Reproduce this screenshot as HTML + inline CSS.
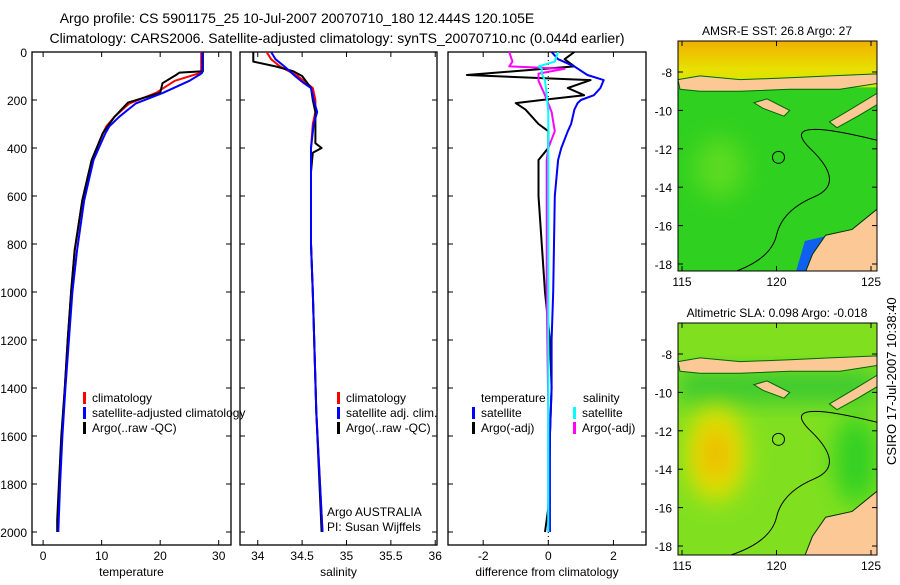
<!DOCTYPE html>
<html><head><meta charset="utf-8"><style>
body{margin:0;background:#fff;width:900px;height:580px;overflow:hidden}
svg{font-family:"Liberation Sans",sans-serif}
</style></head><body>
<svg id="c" width="900" height="580" xmlns="http://www.w3.org/2000/svg">
<defs>
<linearGradient id="sstTop" x1="0" y1="0" x2="0" y2="1"><stop offset="0" stop-color="#f0b000"/><stop offset="0.6" stop-color="#e8e000"/><stop offset="1" stop-color="#d0e800"/></linearGradient>
<filter id="blur" x="-50%" y="-50%" width="200%" height="200%"><feGaussianBlur stdDeviation="12"/></filter>
<clipPath id="m1"><rect x="678" y="41" width="199" height="230"/></clipPath>
<clipPath id="m2"><rect x="678" y="323" width="199" height="232"/></clipPath>
<clipPath id="p1"><rect x="32" y="52" width="199" height="493"/></clipPath>
<clipPath id="p2"><rect x="240" y="52" width="197" height="493"/></clipPath>
<clipPath id="p3"><rect x="448" y="52" width="198" height="493"/></clipPath>
</defs>
<text x="297" y="23" font-size="14" text-anchor="middle">Argo profile: CS 5901175_25 10-Jul-2007 20070710_180 12.444S 120.105E</text>
<text x="337" y="43" font-size="14" text-anchor="middle">Climatology: CARS2006. Satellite-adjusted climatology: synTS_20070710.nc (0.044d earlier)</text>
<g id="plots"></g>
<g id="maps"></g>
<text transform="translate(896,465) rotate(-90)" font-size="13">CSIRO 17-Jul-2007 10:38:40</text>
</svg>
<script>
// ---- data ----
const depthTicks=[0,200,400,600,800,1000,1200,1400,1600,1800,2000];
const tDepth=[0,85,90,120,170,215,270,310,340,450,620,825,1000,1200,1400,1600,1800,2000];
const tClim=[27,27,26.5,22.5,19.3,14.7,12.2,10.8,10.2,8.3,6.7,5.4,4.8,4.2,3.7,3.2,2.8,2.5];
const tSat=[27.2,27.2,27,25,20.5,15.8,13,11.3,10.6,8.6,7.0,5.8,5.0,4.4,3.8,3.3,2.9,2.6];
const tArgoDepth=[0,80,86,96,130,170,211,270,338,450,617,825,992,1200,1400,1600,1800,1950,2000];
const tArgo=[27.3,27.3,23.3,22.7,20.4,20,14.5,12.2,10.2,8.3,6.7,5.4,4.8,4.2,3.7,3.1,2.7,2.4,2.4];
const sDepth=[0,30,60,100,130,150,200,250,300,400,500,800,1000,1500,2000];
const sClim=[34.1,34.15,34.25,34.45,34.55,34.62,34.65,34.65,34.62,34.6,34.6,34.6,34.62,34.66,34.73];
const sSat=[34.15,34.2,34.3,34.42,34.52,34.6,34.63,34.67,34.63,34.6,34.6,34.6,34.62,34.66,34.73];
const sArgoDepth=[0,40,60,80,100,150,200,250,300,380,400,420,500,800,1000,1500,2000];
const sArgo=[33.95,33.95,34.2,34.4,34.5,34.6,34.62,34.65,34.65,34.65,34.72,34.62,34.6,34.6,34.62,34.66,34.72];
const dDepth=[0,30,60,96,117,150,180,200,213,240,300,330,400,450,600,1000,1200,1400,1600,1900,2000];
const dTempArgo=[0.8,0.5,0.8,-2.5,1.3,0.6,1.1,-0.2,-1.0,-0.7,-0.3,0,0,-0.3,-0.3,-0.1,0.05,0.1,0.05,0,-0.1];
const dTempSat=[0.1,0.3,0.8,1.2,1.7,1.6,1.4,1.0,0.9,0.8,0.7,0.6,0.4,0.3,0.2,0.15,0.1,0.1,0.05,0.05,0.05];
const dSalArgoDepth=[0,40,60,70,90,120,180,250,330,400,450,1000,1500,2000];
const dSalArgo=[-1.2,-1.1,-1.2,0.5,-0.3,-0.3,-0.1,0.1,0.2,0,-0.05,-0.05,0,0];
const dSalSat=[0.3,0.2,-0.3,-0.2,-0.2,-0.1,-0.05,0,0,0,0,0,0,0];
// ---- helpers ----
const NS='http://www.w3.org/2000/svg';
const plots=document.getElementById('plots');
function mk(tag,at,parent){const e=document.createElementNS(NS,tag);for(const k in at)e.setAttribute(k,at[k]);(parent||plots).appendChild(e);return e;}
const Y=d=>52+d*0.24;
function panel(x0,x1,xmin,xmax,ticks,name,label,clip,yLabels){
  const X=v=>x0+(v-xmin)/(xmax-xmin)*(x1-x0);
  const g=mk('g',{});
  
  
  const r=mk('rect',{x:x0,y:52,width:x1-x0,height:493,fill:'none',stroke:'#000','stroke-width':1.3},g);
  
  
  depthTicks.forEach(d=>{
    mk('line',{x1:x0,x2:x0+5,y1:Y(d),y2:Y(d),stroke:'#000'},g);
    mk('line',{x1:x1-5,x2:x1,y1:Y(d),y2:Y(d),stroke:'#000'},g);
    if(yLabels){const t=mk('text',{x:x0-5,y:Y(d)+5,'font-size':12,'text-anchor':'end'},g);t.textContent=d;
      
      }
  });
  ticks.forEach(v=>{
    mk('line',{x1:X(v),x2:X(v),y1:52,y2:57,stroke:'#000'},g);
    mk('line',{x1:X(v),x2:X(v),y1:540,y2:545,stroke:'#000'},g);
    const t=mk('text',{x:X(v),y:560,'font-size':12,'text-anchor':'middle'},g);t.textContent=v;
    
    
  });
  const l=mk('text',{x:(x0+x1)/2,y:576,'font-size':12,'text-anchor':'middle'},g);l.textContent=label;
  
  
  const lines=mk('g',{'clip-path':'url(#'+clip+')'},g);
  return {X,g,lines};
}
function series(p,ds,vs,color,w,name){
  const pts=ds.map((d,i)=>p.X(vs[i]).toFixed(1)+','+Y(d).toFixed(1)).join(' ');
  const e=mk('polyline',{points:pts,fill:'none',stroke:color,'stroke-width':w,'stroke-linejoin':'round'},p.lines);
  
  
}
function legend(p,x,y,items){
  items.forEach((it,i)=>{
    mk('rect',{x:x,y:y+i*15-10,width:3,height:12,fill:it[1]},p.g);
    const t=mk('text',{x:x+9,y:y+i*15,'font-size':12},p.g);t.textContent=it[0];
    
    
  });
}
// Temperature
const p1=panel(32,231,-1.9,32.1,[0,10,20,30],'temperature','temperature','p1',true);
series(p1,tDepth,tClim,'#f00',2,'temp-climatology-line');
series(p1,tArgoDepth,tArgo,'#000',2,'temp-argo-line');
series(p1,tDepth,tSat,'#00f',2,'temp-satellite-line');
legend(p1,83,402,[['climatology','#f00'],['satellite-adjusted climatology','#00f'],['Argo(..raw -QC)','#000']]);
// Salinity
const p2=panel(240,437,33.8,36.02,[34,34.5,35,35.5,36],'salinity','salinity','p2',false);
series(p2,sDepth,sClim,'#f00',2,'sal-climatology-line');
series(p2,sArgoDepth,sArgo,'#000',2,'sal-argo-line');
series(p2,sDepth,sSat,'#00f',2,'sal-satellite-line');
legend(p2,337,402,[['climatology','#f00'],['satellite adj. clim.','#00f'],['Argo(..raw -QC)','#000']]);
[['Argo AUSTRALIA',516],['PI: Susan Wijffels',531]].forEach(a=>{const t=mk('text',{x:327,y:a[1],'font-size':12},p2.g);t.textContent=a[0];
  
  });
// Difference
const p3=panel(448,646,-3.08,3.0,[-2,0,2],'difference','difference from climatology','p3',false);
mk('line',{x1:p3.X(0),x2:p3.X(0),y1:52,y2:545,stroke:'#000','stroke-dasharray':'1,3'},p3.lines);
series(p3,dDepth,dTempArgo,'#000',2,'diff-temp-argo-line');
series(p3,dDepth,dTempSat,'#00f',2,'diff-temp-satellite-line');
series(p3,dSalArgoDepth,dSalArgo,'#f0f',2,'diff-sal-argo-line');
series(p3,dSalArgoDepth,dSalSat,'#0ff',2,'diff-sal-satellite-line');
const th=mk('text',{x:481,y:402,'font-size':12},p3.g);th.textContent='temperature';


const sh=mk('text',{x:583,y:402,'font-size':12},p3.g);sh.textContent='salinity';


legend(p3,472,417,[['satellite','#00f'],['Argo(-adj)','#000']]);
legend(p3,573,417,[['satellite','#0ff'],['Argo(-adj)','#f0f']]);
// ---- maps ----
const maps=document.getElementById('maps');
const latTicks=[-8,-10,-12,-14,-16,-18];
const lonTicks=[115,120,125];
function map(y0,h,title,clip,overlay,name){
  const g=mk('g',{},maps);
  
  
  const LX=lon=>682+(lon-115)*18.9, LY=lat=>y0+31+(-8-lat)*19.2;
  const t=mk('text',{x:777,y:y0-6,'font-size':12,'text-anchor':'middle'},g);t.textContent=title;
  
  
  const c=mk('g',{'clip-path':'url(#'+clip+')'},g);
  mk('rect',{x:678,y:y0,width:199,height:h,fill:'#30d020'},c);
  overlay(c,LX,LY);
  const land='#fcc896';
  mk('path',{d:`M678 ${LY(-8.4)} L700 ${LY(-8.2)} L740 ${LY(-8.4)} L790 ${LY(-8.3)} L830 ${LY(-8.2)} L877 ${LY(-8.1)} L877 ${LY(-8.6)} L840 ${LY(-8.9)} L790 ${LY(-8.9)} L740 ${LY(-9.0)} L700 ${LY(-9.0)} L680 ${LY(-8.9)}Z`,fill:land,stroke:'#060','stroke-width':1},c);
  mk('path',{d:`M${LX(118.8)} ${LY(-9.6)} L${LX(119.5)} ${LY(-9.4)} L${LX(120.7)} ${LY(-10)} L${LX(120.4)} ${LY(-10.3)} L${LX(119.3)} ${LY(-9.9)}Z`,fill:land,stroke:'#060'},c);
  mk('path',{d:`M${LX(122.8)} ${LY(-10.6)} L${LX(124)} ${LY(-9.9)} L${LX(125.5)} ${LY(-9)} L${LX(125.5)} ${LY(-9.6)} L${LX(124.3)} ${LY(-10.3)} L${LX(123.2)} ${LY(-10.9)}Z`,fill:land,stroke:'#060'},c);
  mk('path',{d:`M${LX(121.5)} ${LY(-18.5)} L${LX(121.9)} ${LY(-17.5)} L${LX(122.6)} ${LY(-16.5)} L${LX(124)} ${LY(-16.2)} L${LX(125.5)} ${LY(-15)} L${LX(125.5)} ${LY(-18.5)}Z`,fill:land,stroke:'#030'},c);
  mk('path',{d:`M${LX(117.5)} ${LY(-18.5)} Q${LX(119.7)} ${LY(-17.8)} ${LX(120)} ${LY(-16.5)} T${LX(122)} ${LY(-14.5)} T${LX(121.8)} ${LY(-12)} T${LX(125.5)} ${LY(-11.6)}`,fill:'none',stroke:'#000','stroke-width':1},c);
  mk('circle',{cx:LX(120.105),cy:LY(-12.444),r:6,fill:'none',stroke:'#000'},c);
  const fr=mk('rect',{x:678,y:y0,width:199,height:h,fill:'none',stroke:'#000'},g);
  
  
  latTicks.forEach(l=>{mk('line',{x1:877,x2:872,y1:LY(l),y2:LY(l),stroke:'#000'},g);
    mk('line',{x1:678,x2:683,y1:LY(l),y2:LY(l),stroke:'#000'},g);
    const tt=mk('text',{x:672,y:LY(l)+5,'font-size':12,'text-anchor':'end'},g);tt.textContent=l;
    
    });
  lonTicks.forEach(l=>{mk('line',{x1:LX(l),x2:LX(l),y1:y0,y2:y0+5,stroke:'#000'},g);
    mk('line',{x1:LX(l),x2:LX(l),y1:y0+h,y2:y0+h-5,stroke:'#000'},g);
    const tt=mk('text',{x:LX(l),y:y0+h+15,'font-size':12,'text-anchor':'middle'},g);tt.textContent=l;
    
    });
}
map(41,230,'AMSR-E SST: 26.8 Argo: 27','m1',(c,LX,LY)=>{
  mk('rect',{x:678,y:41,width:199,height:LY(-8.8)-41,fill:'url(#sstTop)'},c);
  mk('ellipse',{cx:LX(117),cy:LY(-13),rx:25,ry:30,fill:'#70e020',opacity:0.7,filter:'url(#blur)'},c);
  mk('path',{d:`M${LX(121)} ${LY(-18.5)} L${LX(121.5)} ${LY(-16.8)} L${LX(122.8)} ${LY(-16.5)} L${LX(122.5)} ${LY(-18.5)}Z`,fill:'#1060f0'},c);
},'sst-map');
map(323,232,'Altimetric SLA: 0.098 Argo: -0.018','m2',(c,LX,LY)=>{
  mk('rect',{x:678,y:323,width:199,height:232,fill:'#80e020'},c);
  mk('rect',{x:678,y:LY(-8.9),width:199,height:LY(-10.5)-LY(-8.9),fill:'#38c830',filter:'url(#blur)'},c);
  mk('ellipse',{cx:LX(116.8),cy:LY(-13.2),rx:30,ry:48,fill:'#e0e000',filter:'url(#blur)'},c);
  mk('ellipse',{cx:LX(116.8),cy:LY(-13.2),rx:14,ry:26,fill:'#f0b800',filter:'url(#blur)'},c);
  mk('ellipse',{cx:LX(124.2),cy:LY(-13.5),rx:22,ry:45,fill:'#30d020',filter:'url(#blur)'},c);
},'sla-map');
</script>
</body></html>
